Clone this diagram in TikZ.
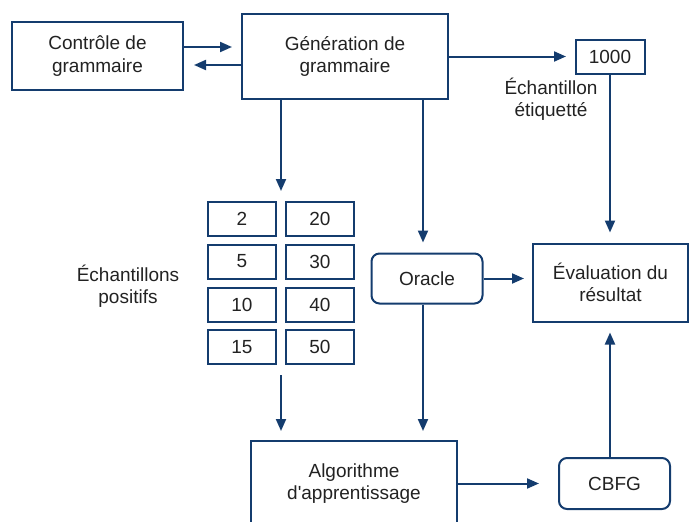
\documentclass[tikz,border=0pt]{standalone}
\usepackage{fontspec}
\setmainfont{Liberation Sans}
\usetikzlibrary{arrows.meta,calc}
\definecolor{dblue}{RGB}{20,60,110}
\definecolor{txt}{RGB}{34,34,34}
\begin{document}
\begin{tikzpicture}[x=1pt,y=-1pt,
  box/.style={draw=dblue,line width=2pt,inner sep=0pt,align=center,text=txt,font=\fontsize{19}{22.5}\selectfont},
  rbox/.style={box,rounded corners=8pt},
  lbl/.style={inner sep=0pt,align=center,text=txt,font=\fontsize{19}{22.5}\selectfont},
  arr/.style={draw=dblue,line width=2pt,-{Triangle[length=12pt,width=10pt]}}]
\useasboundingbox (0,0) rectangle (689,522);
\node[box,minimum width=171pt,minimum height=68pt] (ctrl) at (97.5,56) {Contrôle de\\grammaire};
\node[box,minimum width=206pt,minimum height=85pt] (gen) at (345,56.5) {Génération de\\grammaire};
\node[box,minimum width=69pt,minimum height=34pt] (mille) at (610,56.5) {1000};
\node[lbl] (etiq) at (551,99) {Échantillon\\étiquetté};
\node[box,minimum width=155pt,minimum height=78pt] (eval) at (610.5,282.5) {Évaluation du\\résultat};
\node[rbox,minimum width=111pt,minimum height=50pt] (oracle) at (427,278.5) {Oracle};
\node[lbl] (pos) at (128,286) {Échantillons\\positifs};
\foreach \n/\x/\y/\t in {a/242/219/2,b/320/219/20,c/242/261.5/5,d/320/261.5/30,e/242/304.5/10,f/320/304.5/40,g/242/347/15,h/320/347/50}
  \node[box,minimum width=68pt,minimum height=34pt] (s\n) at (\x,\y) {\t};
\node[box,minimum width=206pt,minimum height=85pt] (algo) at (354,483.5) {Algorithme\\d\textquotesingle apprentissage};
\node[rbox,minimum width=111pt,minimum height=51pt] (cbfg) at (614.5,483.5) {CBFG};
\coordinate (stop) at ($(sa.north east)!0.5!(sb.north west)$);
\coordinate (sbot) at ($(sg.south east)!0.5!(sh.south west)$);
\coordinate (ox) at ([xshift=-4pt]oracle.north);
\coordinate (oxs) at ([xshift=-4pt]oracle.south);
\coordinate (cx) at ([xshift=-4.5pt]cbfg.north);
% connectors
\draw[arr,shorten >=9pt] ([yshift=9pt]ctrl.east) -- ([yshift=9pt]ctrl.east -| gen.west);
\draw[arr,shorten >=10pt] ([yshift=-9pt]ctrl.east -| gen.west) -- ([yshift=-9pt]ctrl.east);
\draw[arr,shorten >=8.5pt] (gen.east) -- (mille.west);
\draw[arr,shorten >=10pt] (stop |- gen.south) -- (stop);
\draw[arr,shorten >=10pt] (ox |- gen.south) -- (ox);
\draw[arr,shorten >=8pt] (oracle.east) -- (oracle.east -| eval.west);
\draw[arr,shorten >=10pt] (mille.south) -- (mille.south |- eval.north);
\draw[arr,shorten <=10pt,shorten >=9pt] (sbot) -- (sbot |- algo.north);
\draw[arr,shorten >=9pt] (oxs) -- (oxs |- algo.north);
\draw[arr,shorten >=19pt] (algo.east) -- (cbfg.west);
\draw[arr,shorten >=10pt] (cx) -- (cx |- eval.south);
\end{tikzpicture}
\end{document}
